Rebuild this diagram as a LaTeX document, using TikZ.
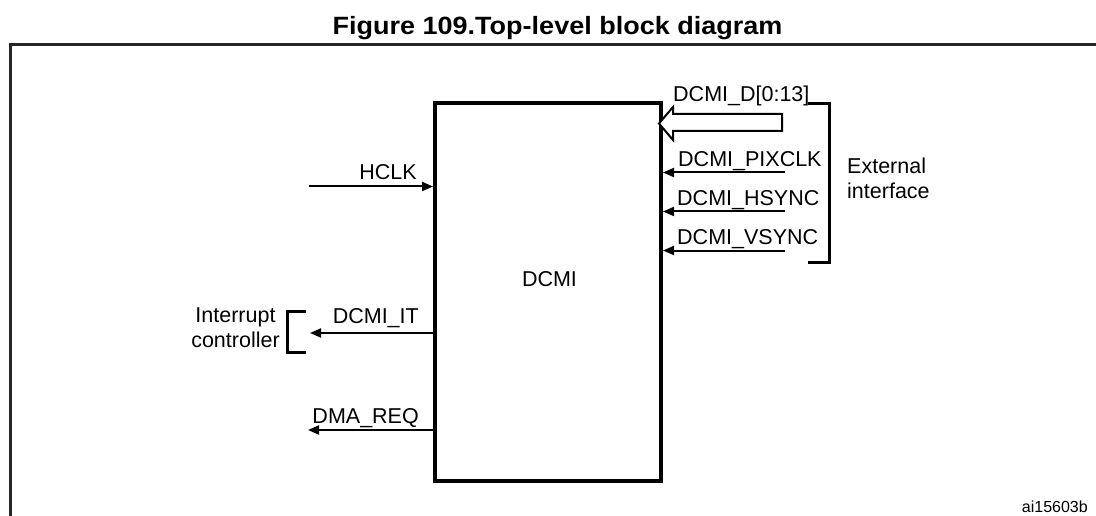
\documentclass[tikz,border=0pt]{standalone}
\usepackage{fontspec}
\setmainfont{Liberation Sans}
\usetikzlibrary{arrows.meta}
\begin{document}
\begin{tikzpicture}[x=1pt,y=-1pt,
  lbl/.style={inner sep=0pt,font=\fontsize{21.5}{25}\selectfont},
  sig/.style={line width=2pt,-{Triangle[length=11pt,width=9pt]}},
  brk/.style={line width=3pt},
  frame/.style={line width=3pt,draw=black!85}]
\useasboundingbox (0,0) rectangle (1096,516);
% title
\node[inner sep=0pt,anchor=base,font=\fontsize{25}{30}\selectfont\bfseries,xscale=1.08] (title) at (557.5,34.3) {Figure 109.Top-level block diagram};
% frame
\draw[frame] (1096,45) -- (10,45) -- (10,516);
% DCMI box
\node[draw,line width=4pt,minimum width=226pt,minimum height=378pt,inner sep=0pt,anchor=north west] (dcmi) at (433,101) {};
\node[lbl] (dcmilbl) at (549.5,279) {DCMI};
% HCLK
\coordinate (hclkS) at (309,186.5);
\draw[sig] (hclkS) -- (hclkS -| dcmi.west);
\node[lbl,anchor=base east] (hclk) at (417,179.5) {HCLK};
% DCMI_IT
\coordinate (itE) at (310,333);
\draw[sig] (dcmi.west |- itE) -- (itE);
\node[lbl,anchor=base east] (it) at (419,323) {DCMI\_IT};
\coordinate (b1) at (306,311);
\coordinate (b2) at (287,311);
\coordinate (b3) at (287,352);
\coordinate (b4) at (306,352);
\draw[brk] (b1) -- (b2) -- (b3) -- (b4);
\node[lbl,align=center,anchor=base] (ic) at (235.5,347) {Interrupt\\controller};
% DMA_REQ
\coordinate (dmaE) at (308,430);
\draw[sig] (dcmi.west |- dmaE) -- (dmaE);
\node[lbl,anchor=base east] (dma) at (419,423) {DMA\_REQ};
% data bus hollow arrow
\coordinate (dtip) at (659,123.5);
\draw[line width=2pt,fill=white] (dtip) -- (673,107) -- (673,114) -- (782,114) -- (782,131) -- (673,131) -- (673,140) -- cycle;
\node[lbl,anchor=base west] (dlbl) at (673,102) {DCMI\_D[0:13]};
% sync signals
\coordinate (pS) at (785,172.5);
\coordinate (hS) at (785,211.5);
\coordinate (vS) at (785,250.5);
\draw[sig] (pS) -- (pS -| dcmi.east);
\draw[sig] (hS) -- (hS -| dcmi.east);
\draw[sig] (vS) -- (vS -| dcmi.east);
\node[lbl,anchor=base west] (plbl) at (678,166.5) {DCMI\_PIXCLK};
\node[lbl,anchor=base west] (hlbl) at (677,205.5) {DCMI\_HSYNC};
\node[lbl,anchor=base west] (vlbl) at (677,244.5) {DCMI\_VSYNC};
% right bracket
\coordinate (r1) at (808,104);
\coordinate (r2) at (829,104);
\coordinate (r3) at (829,262);
\coordinate (r4) at (808,262);
\draw[brk] (r1) -- (r2) -- (r3) -- (r4);
\node[lbl,align=left,anchor=base west] (ext) at (847,199) {External\\interface};
% reference code
\node[inner sep=0pt,anchor=base east,font=\fontsize{16}{19}\selectfont] (code) at (1088,512) {ai15603b};
\end{tikzpicture}
\end{document}
